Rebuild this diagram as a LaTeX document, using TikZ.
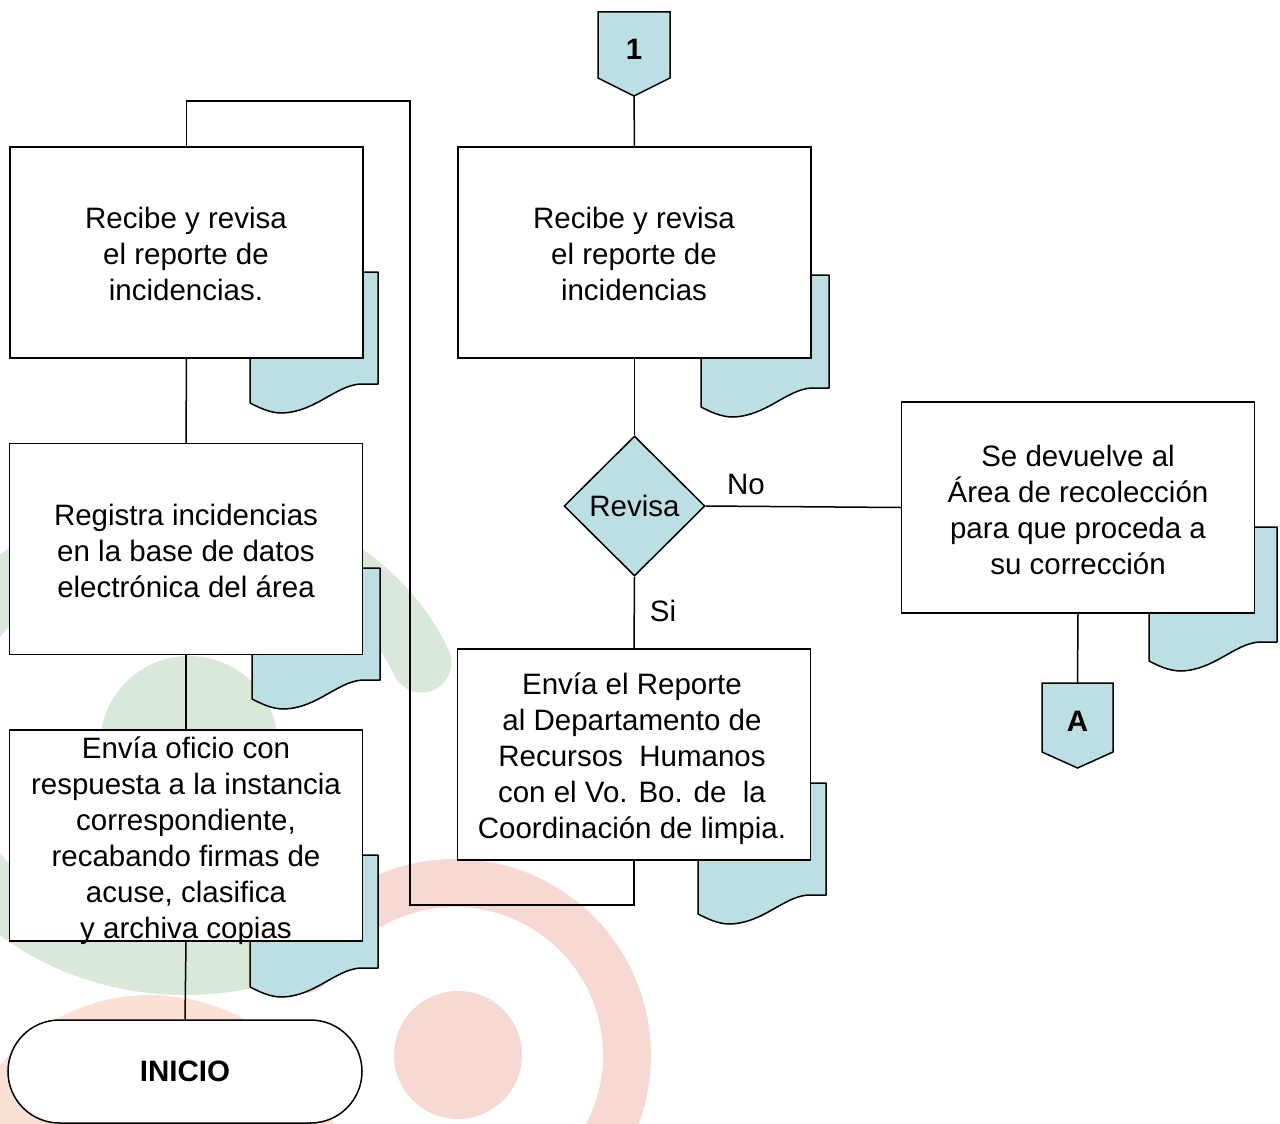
\documentclass[tikz,border=0pt]{standalone}
\usepackage{fontspec}
\setmainfont{Liberation Sans}
\usetikzlibrary{shapes.geometric}
\definecolor{docblue}{HTML}{BBDFE3}
\definecolor{wmgreen}{HTML}{D9E8D8}
\definecolor{wmpink}{HTML}{F6D9D3}
\definecolor{wmpeach}{HTML}{FBE1D4}
\newcommand\docsh[3]{%
  \path[docstyle] (#1,#2) -- (#1+128,#2) -- (#1+128,#3) -- (#1+110,#3)
    .. controls (#1+85,#3+2) and (#1+65,#3+28) .. (#1+32,#3+29)
    .. controls (#1+20,#3+29) and (#1+10,#3+24) .. (#1,#3+19) -- cycle;}
\tikzset{
  txt/.style={font=\fontsize{29.5}{36}\selectfont, align=center, inner sep=0pt},
  boldtxt/.style={font=\fontsize{29.5}{36}\selectfont\bfseries, inner sep=0pt},
  box/.style={draw, fill=white, line width=1.5pt, minimum width=353pt, minimum height=211pt, inner sep=0pt},
  docstyle/.style={draw, fill=docblue, line width=1.5pt, line join=round},
  conn/.style={draw, fill=docblue, line width=1.5pt, line join=miter},
  link/.style={draw, line width=1.5pt},
}
\begin{document}
\begin{tikzpicture}[x=1pt,y=-1pt]
\useasboundingbox (0,0) rectangle (1280,1124);
% watermark
\begin{scope}
  \clip (0,0) rectangle (1280,1124);
  \draw[wmgreen, line width=60pt, line cap=round] (185,745) ++(-22:255 and 220) arc[start angle=-22, end angle=-300, x radius=255, y radius=220];
  \fill[wmgreen] (189,745) circle[radius=89];
  \draw[wmpink, line width=48pt, line cap=round] (455,1055) ++(-150:172) arc[start angle=-150, end angle=100, radius=172];
  \fill[wmpink] (458,1055) circle[radius=64];
  \fill[wmpeach] (150,1190) circle[radius=195];
\end{scope}
% document shadows
\docsh{250}{272}{384}
\docsh{701}{275}{388}
\docsh{252}{568}{680}
\docsh{250}{855}{968}
\docsh{698}{783}{895}
\docsh{1149}{527}{642}
% boxes
\node[box] (b1) at (186.5,252.5) {};
\node[txt] (b1t) at (186,254) {Recibe y revisa\\el reporte de\\incidencias.};
\node[box] (b2) at (186,549) {};
\node[txt] (b2t) at (186,551) {Registra incidencias\\en la base de datos\\electrónica del área};
\node[box] (b3) at (186,835.5) {};
\node[txt] (b3t) at (186,840.5) {Envía oficio con\\respuesta a la instancia\\correspondiente,\\recabando firmas de\\acuse, clasifica\\y archiva copias};
\node[box] (r1) at (634.5,252.5) {};
\node[txt] (r1t) at (634,254) {Recibe y revisa\\el reporte de\\incidencias};
\node[box] (r2) at (634,754.5) {};
\node[txt] (r2t) at (632,758.5) {Envía el Reporte\\al Departamento de\\Recursos~ Humanos\\con el Vo. Bo. de~ la\\Coordinación de limpia.};
\node[box] (sd) at (1078,507.5) {};
\node[txt] (sdt) at (1078,509.5) {Se devuelve al\\Área de recolección\\para que proceda a\\su corrección};
% decision
\node[diamond, draw, fill=docblue, line width=1.5pt, minimum width=141pt, minimum height=140pt, inner sep=0pt, font=\fontsize{29.5}{36}\selectfont] (dia) at (634.5,506) {Revisa};
% INICIO
\node[draw, fill=white, line width=1.5pt, rounded corners=51.5pt, minimum width=354pt, minimum height=103pt, boldtxt] (ini) at (185,1071.5) {INICIO};
% off-page connectors
\path[conn] (598,12) -- (670,12) -- (670,78) -- (634,96) -- (598,78) -- cycle;
\node[boldtxt] (c1) at (634,49) {1};
\coordinate (c1b) at (634,96);
\path[conn] (1042,683) -- (1113,683) -- (1113,752) -- (1077.5,768) -- (1042,752) -- cycle;
\node[boldtxt] (ca) at (1077.5,721) {A};
\coordinate (cat) at (1077.5,683);
% connectors
\draw[link] (c1b) -- (r1.north);
\draw[link] (r1.south) -- (dia.north);
\draw[link] (dia.south) -- (r2.north);
\draw[link] (dia.east) -- (sd.west);
\draw[link] (sd.south) -- (cat);
\coordinate (lpa) at (634,905);
\coordinate (lpb) at (410,101);
\draw[link] (r2.south) -- (lpa) -| (lpb) -| (b1.north);
\draw[link] (b1.south) -- (b2.north);
\draw[link] (b2.south) -- (b3.north);
\draw[link] (b3.south) -- (ini.north);
% labels
\node[txt] (lno) at (746,484) {No};
\node[txt] (lsi) at (663,611) {Si};
\end{tikzpicture}
\end{document}
